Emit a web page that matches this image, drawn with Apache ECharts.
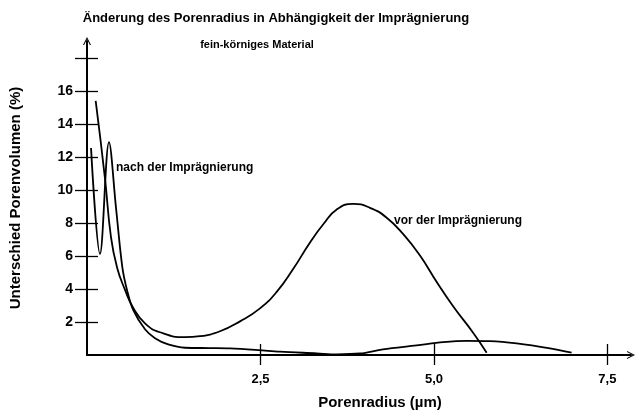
<!DOCTYPE html>
<html lang="de">
<head>
    <meta charset="UTF-8"/>
    <title>Porenradius</title>
    <script src="https://cdn.jsdelivr.net/npm/echarts@6/dist/echarts.min.js"></script>
</head>
<body style="margin:0">
<div id="main" style="width: 643px;height:415px;"></div>
<script type="text/javascript">
    // Werte
    var xVor  = [0.125, 0.259, 0.346, 0.432, 0.548, 0.663, 0.836, 1.052, 1.412, 1.628, 1.917, 2.205, 2.493, 2.734, 2.973, 3.214, 3.405, 3.599, 3.838, 4.078, 4.319, 4.558, 4.799, 5.040, 5.279, 5.567, 5.760];
    var yVor  = [15.42, 10.72, 7.13, 5.33, 3.95, 2.88, 1.92, 1.38, 1.08, 1.14, 1.44, 2.04, 2.83, 3.83, 5.23, 6.83, 7.93, 8.83, 9.17, 8.93, 8.33, 7.33, 6.03, 4.43, 2.94, 1.34, 0.14];
    var xNach = [0.058, 0.187, 0.317, 0.418, 0.509, 0.576, 0.665, 0.836, 0.980, 1.171, 1.412, 1.772, 2.061, 2.468, 2.781, 3.310, 3.598, 3.934, 4.265, 4.751, 5.134, 5.471, 5.807, 6.192, 6.672, 6.984];
    var yNach = [12.56, 6.13, 12.92, 8.93, 5.33, 3.95, 2.74, 1.56, 1.02, 0.64, 0.44, 0.42, 0.40, 0.30, 0.20, 0.10, 0.04, 0.09, 0.34, 0.58, 0.78, 0.86, 0.84, 0.70, 0.40, 0.14];
    var yTicks  = [2, 4, 6, 8, 10, 12, 14, 16, 18];
    var yLabels = [2, 4, 6, 8, 10, 12, 14, 16];
    var xTicks  = [2.5, 5.0, 7.5];

    function pairs(xs, ys) {
        var out = [];
        for (var i = 0; i < xs.length; i++) {
            out.push([xs[i], ys[i]]);
        }
        return out;
    }

    var font = 'Liberation Sans, Arial, sans-serif';
    var arrow = 'path://M0,10 L5,0 L10,10 L8.6,10 L5,2.8 L1.4,10 Z';
    var xMax = 7.84, yMax = 19.05;

    var myChart = echarts.init(document.getElementById('main'));
    var option = {
        backgroundColor: '#fff',
        animation: false,
        grid: {left: 87, right: 12, top: 41, bottom: 56},
        graphic: [
            {type: 'text', x: 276, y: 18, style: {text: 'Änderung des Porenradius in Abhängigkeit der Imprägnierung', font: 'bold 13px ' + font, fill: '#000', textAlign: 'center', textVerticalAlign: 'middle'}},
            {type: 'text', x: 257, y: 45, style: {text: 'fein-körniges Material', font: 'bold 11px ' + font, fill: '#000', textAlign: 'center', textVerticalAlign: 'middle'}},
            {type: 'text', x: 116, y: 168, style: {text: 'nach der Imprägnierung', font: 'bold 12px ' + font, fill: '#000', textAlign: 'left', textVerticalAlign: 'middle'}},
            {type: 'text', x: 394, y: 221, style: {text: 'vor der Imprägnierung', font: 'bold 12px ' + font, fill: '#000', textAlign: 'left', textVerticalAlign: 'middle'}}
        ],
        xAxis: [
            {
                type: 'value', min: 0, max: xMax, position: 'bottom',
                name: 'Porenradius (µm)', nameLocation: 'middle', nameGap: 40,
                nameTextStyle: {fontFamily: font, fontWeight: 'bold', fontSize: 15, color: '#000', padding: [0, 0, 0, 42]},
                axisLine: {lineStyle: {color: '#000', width: 2}, symbol: ['none', arrow], symbolSize: [8, 8]},
                axisTick: {inside: false, length: 10, lineStyle: {color: '#000', width: 1.3}, customValues: xTicks},
                axisLabel: {margin: 18, fontFamily: font, fontWeight: 'bold', fontSize: 13, color: '#000', customValues: xTicks,
                    formatter: function (v) { return v.toFixed(1).replace('.', ','); }},
                splitLine: {show: false}
            },
            {
                type: 'value', min: 0, max: xMax, position: 'bottom',
                axisLine: {show: false},
                axisTick: {inside: true, length: 11, lineStyle: {color: '#000', width: 1.3}, customValues: xTicks},
                axisLabel: {show: false},
                splitLine: {show: false}
            }
        ],
        yAxis: [
            {
                type: 'value', min: 0, max: yMax, position: 'left',
                name: 'Unterschied Porenvolumen (%)', nameLocation: 'middle', nameGap: 64, nameRotate: 90,
                nameTextStyle: {fontFamily: font, fontWeight: 'bold', fontSize: 15, color: '#000'},
                axisLine: {show: true, lineStyle: {color: '#000', width: 2}, symbol: ['none', arrow], symbolSize: [8, 8]},
                axisTick: {show: true, inside: false, length: 12, lineStyle: {color: '#000', width: 1.3}, customValues: yTicks},
                axisLabel: {margin: 14, fontFamily: font, fontWeight: 'bold', fontSize: 14, color: '#000', customValues: yLabels},
                splitLine: {show: false}
            },
            {
                type: 'value', min: 0, max: yMax, position: 'left',
                axisLine: {show: false},
                axisTick: {show: true, inside: true, length: 11, lineStyle: {color: '#000', width: 1.3}, customValues: yTicks},
                axisLabel: {show: false},
                splitLine: {show: false}
            }
        ],
        series: [
            {
                name: 'vor der Imprägnierung', type: 'line', smooth: 0.5, showSymbol: false,
                lineStyle: {color: '#000', width: 1.8},
                data: pairs(xVor, yVor)
            },
            {
                name: 'nach der Imprägnierung', type: 'line', smooth: 0.35, showSymbol: false,
                lineStyle: {color: '#000', width: 1.8},
                data: pairs(xNach, yNach)
            }
        ]
    };
    myChart.setOption(option);
</script>
</body>
</html>
